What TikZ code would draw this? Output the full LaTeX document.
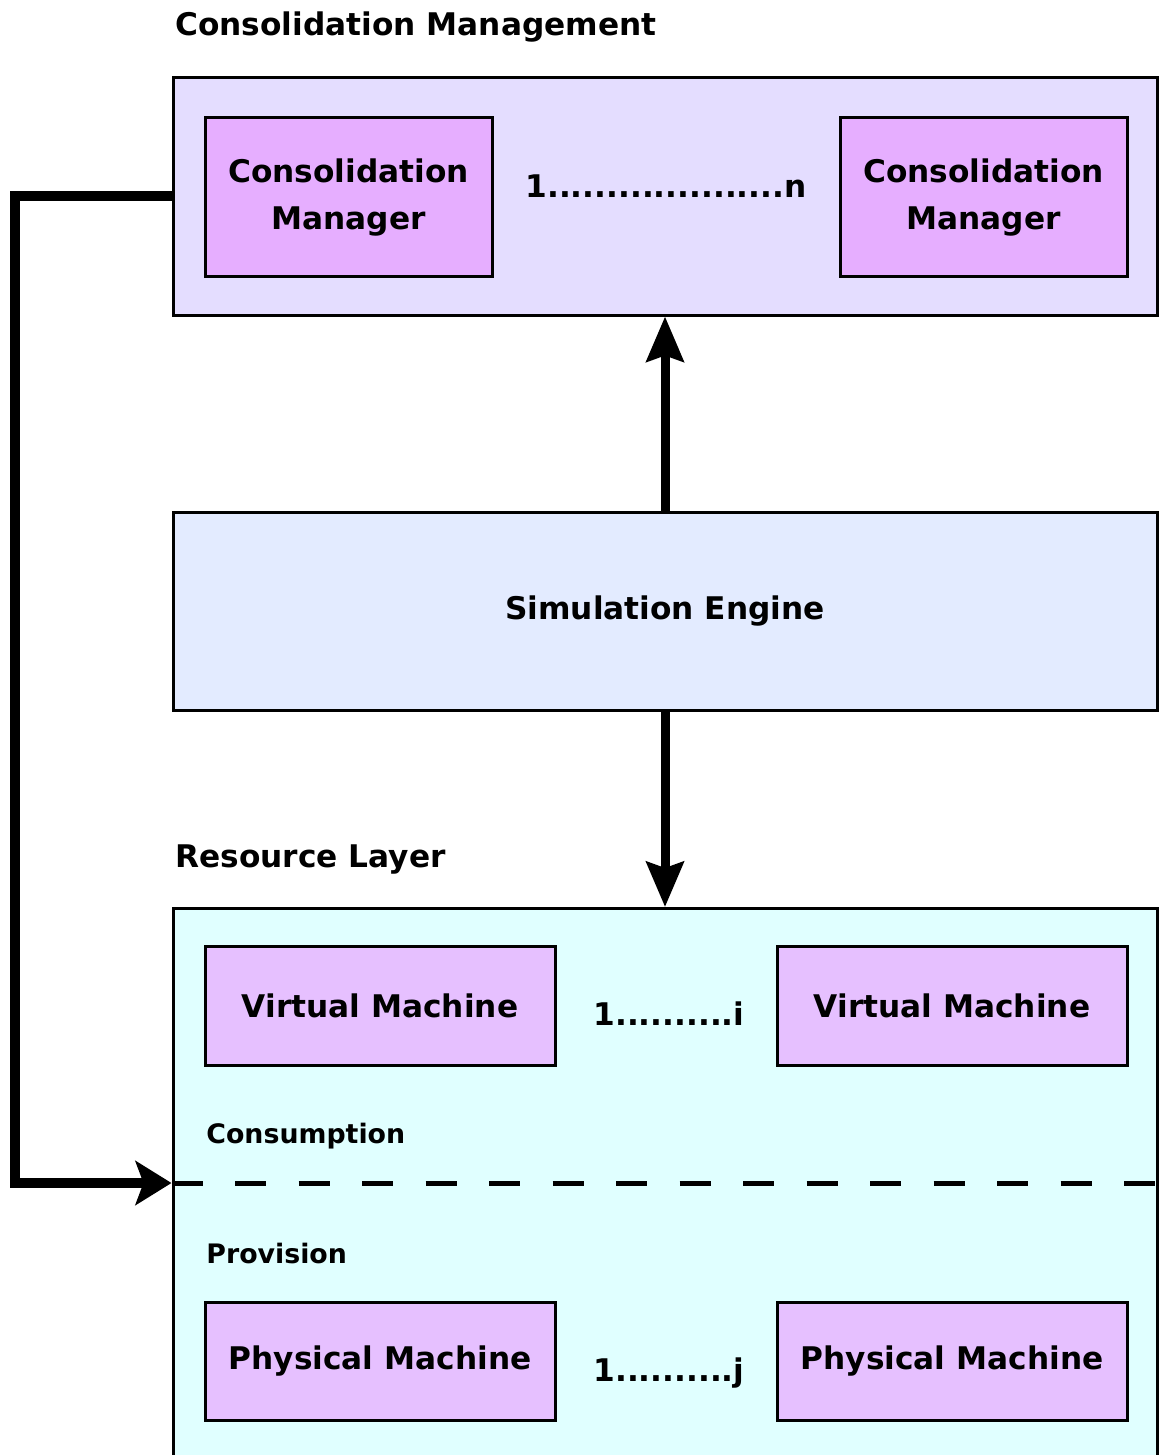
\documentclass[tikz,border=0pt]{standalone}
\usepackage{fontspec}
\setmainfont{DejaVu Sans}
\usetikzlibrary{arrows.meta}

\definecolor{mgmtfill}{RGB}{228,221,255}
\definecolor{mgrfill}{RGB}{230,174,255}
\definecolor{enginefill}{RGB}{227,235,255}
\definecolor{resfill}{RGB}{224,255,255}
\definecolor{machfill}{RGB}{230,192,255}

\newcommand{\twolines}[2]{\raisebox{-2pt}{\begin{tabular}{@{}c@{}}#1\\#2\end{tabular}}}

\tikzset{
  lbl/.style={font=\bfseries\fontsize{15.6}{23.5}\selectfont, inner sep=0pt},
  smalllbl/.style={font=\bfseries\fontsize{13.4}{16}\selectfont, inner sep=0pt, anchor=base west},
  panel/.style={draw=black, line width=1.5pt, rectangle, inner sep=0pt, minimum width=492pt},
  unitbox/.style={draw=black, line width=1.5pt, rectangle, inner sep=0pt, align=center,
                  font=\bfseries\fontsize{15.6}{23.5}\selectfont},
  flow/.style={line width=4.5pt, -{Stealth[length=22.5pt, width=18.5pt, inset=3pt]}},
  feedback/.style={line width=5pt, line join=miter, -{Stealth[length=18pt, width=22pt, inset=4pt]}},
  divider/.style={line width=2.5pt, dash pattern=on 15.5pt off 16.25pt}
}

\begin{document}
\begin{tikzpicture}[x=0.5pt, y=-0.5pt]
\useasboundingbox (0,0) rectangle (1159,1455);

% Consolidation management layer
\node[lbl, anchor=base west] (mgmttitle) at (175,36) {Consolidation Management};
\node[panel, fill=mgmtfill, minimum height=118.5pt] (mgmt) at (665,196.5) {};
\node[unitbox, fill=mgrfill, minimum width=143.5pt, minimum height=79pt] (cm1) at (348.5,197) {\twolines{Consolidation}{Manager}};
\node[unitbox, fill=mgrfill, minimum width=143.5pt, minimum height=79pt] (cm2) at (983.5,197) {\twolines{Consolidation}{Manager}};
\node[lbl, anchor=base] (cmrange) at (666,198) {1....................n};

% Simulation engine
\node[panel, fill=enginefill, minimum height=99pt, lbl] (engine) at (665,611) {\raisebox{-1.5pt}{Simulation Engine}};

% Resource layer
\node[lbl, anchor=base west] (restitle) at (175,867) {Resource Layer};
\node[panel, fill=resfill, minimum height=281.5pt, anchor=north] (res) at (665,907) {};
\node[unitbox, fill=machfill, minimum width=175pt, minimum height=59.5pt] (vm1) at (380,1005.5) {Virtual Machine};
\node[unitbox, fill=machfill, minimum width=175pt, minimum height=59.5pt] (vm2) at (952,1005.5) {Virtual Machine};
\node[lbl, anchor=base] (vmrange) at (669,1025) {1..........i};
\node[smalllbl] (consumption) at (206,1143) {Consumption};
\node[smalllbl] (provision) at (206,1263) {Provision};
\node[unitbox, fill=machfill, minimum width=175pt, minimum height=59pt] (pm1) at (380,1361) {Physical Machine};
\node[unitbox, fill=machfill, minimum width=175pt, minimum height=59pt] (pm2) at (952,1361) {Physical Machine};
\node[lbl, anchor=base] (pmrange) at (669,1381) {1..........j};

% Consumption / provision boundary
\coordinate (divl) at (res.west |- 0,1183);
\coordinate (divr) at (res.east |- 0,1183);
\draw[divider] (divl) -- (divr);

% Connectors
\draw[flow] (engine.north) -- (mgmt.south);
\draw[flow] (engine.south) -- (res.north);
\coordinate (loop) at (14.5,196.5);
\draw[feedback] (mgmt.west) -- (loop) |- (divl);
\end{tikzpicture}
\end{document}
